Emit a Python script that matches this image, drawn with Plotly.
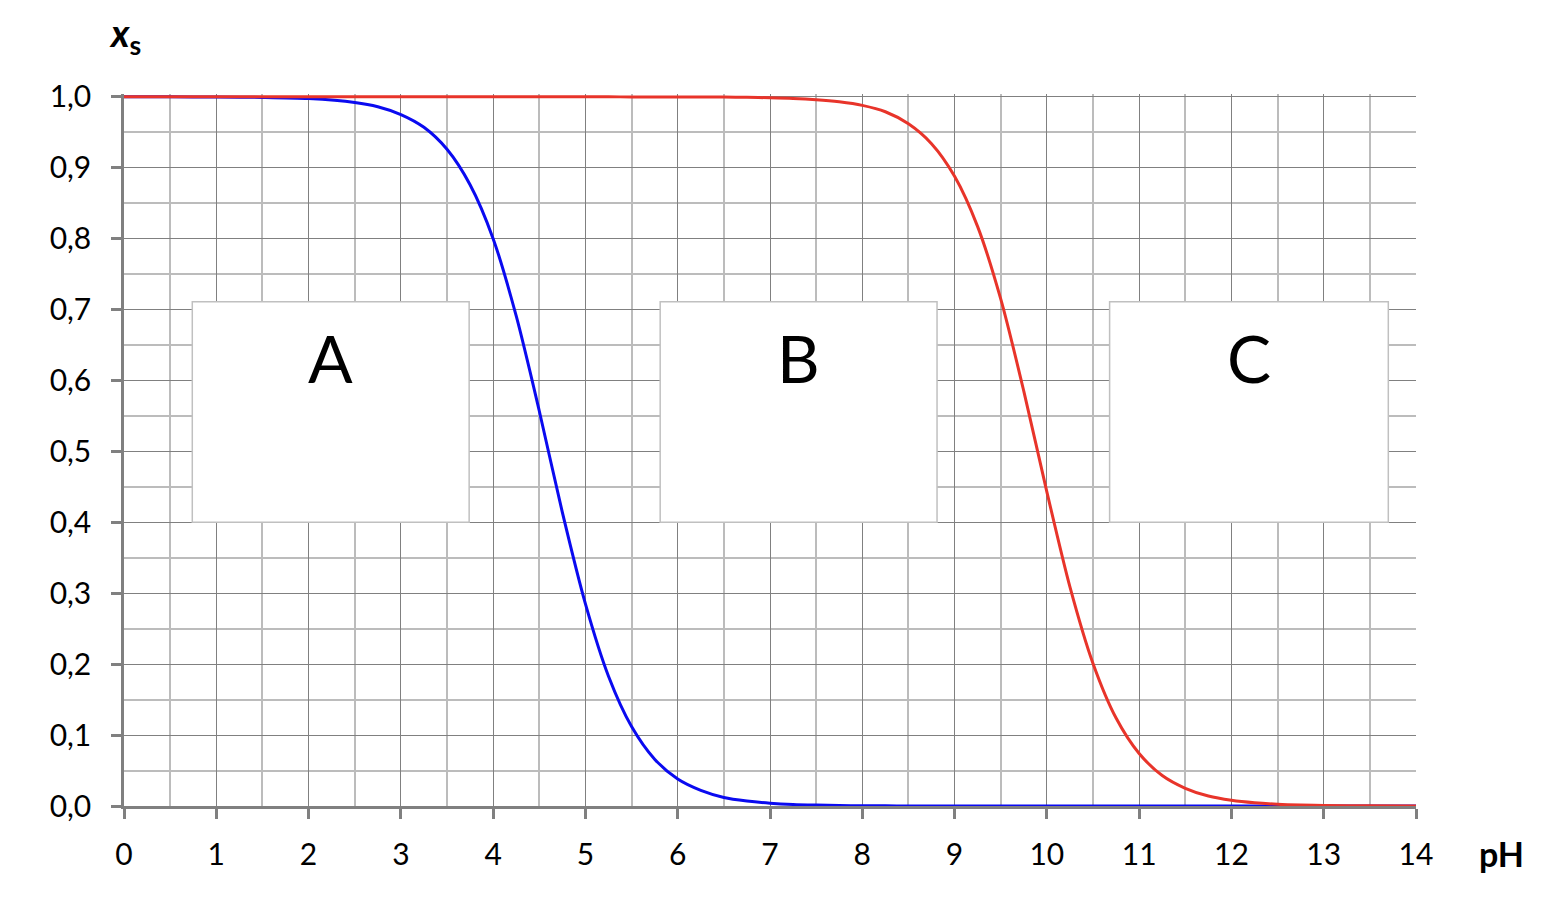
import plotly.graph_objects as go

# pH values
ph = [0, 0.5, 1, 1.5, 2, 2.5, 2.75, 3, 3.25, 3.5, 3.75, 4, 4.25, 4.5, 4.75, 5, 5.25, 5.5,
      5.75, 6, 6.25, 6.5, 6.75, 7, 7.25, 7.5, 7.75, 8, 8.25, 8.5, 8.75, 9, 9.25, 9.5, 9.75,
      10, 10.25, 10.5, 10.75, 11, 11.25, 11.5, 11.75, 12, 12.25, 12.5, 12.75, 13, 13.5, 14]

# blue curve x_s
blue = [1.0, 1.0, 0.9997, 0.9992, 0.9975, 0.992, 0.986, 0.975, 0.957, 0.926, 0.876, 0.80,
        0.691, 0.557, 0.414, 0.285, 0.183, 0.112, 0.066, 0.038, 0.022, 0.012, 0.0070,
        0.0040, 0.0022, 0.0013, 0.0007, 0.0004, 0.0002, 0.0001, 0, 0, 0, 0, 0,
        0, 0, 0, 0, 0, 0, 0, 0, 0, 0, 0, 0, 0, 0, 0]

# red curve x_s
red = [1.0, 1.0, 1.0, 1.0, 1.0, 1.0, 1.0, 1.0, 1.0, 1.0, 1.0, 1.0, 1.0, 1.0, 1.0,
       1.0, 1.0, 0.9999, 0.9999, 0.9999, 0.9998, 0.9996, 0.9993, 0.9987, 0.9978, 0.996,
       0.993, 0.988, 0.979, 0.962, 0.934, 0.888, 0.817, 0.715, 0.585, 0.443, 0.309,
       0.201, 0.124, 0.074, 0.043, 0.025, 0.014, 0.008, 0.0045, 0.0025, 0.0014, 0.0008,
       0.0003, 0.0001]

# labelled boxes: label, x0, x1, y0, y1
box_labels = ["A", "B", "C"]
box_x0 = [0.74, 5.81, 10.68]
box_x1 = [3.74, 8.81, 13.70]
box_y0 = [0.40, 0.40, 0.40]
box_y1 = [0.711, 0.711, 0.711]
label_y = 0.632

FONT = "Lato"

fig = go.Figure()
fig.add_trace(go.Scatter(x=ph, y=blue, mode="lines", line=dict(color="#0a0af0", width=3, shape="spline", smoothing=0.8),
                         hoverinfo="skip", showlegend=False))
fig.add_trace(go.Scatter(x=ph, y=red, mode="lines", line=dict(color="#e8342a", width=3, shape="spline", smoothing=0.8),
                         hoverinfo="skip", showlegend=False))

for lab, x0, x1, y0, y1 in zip(box_labels, box_x0, box_x1, box_y0, box_y1):
    fig.add_shape(type="rect", x0=x0, x1=x1, y0=y0, y1=y1, xref="x", yref="y",
                  fillcolor="white", line=dict(color="#c0c0c0", width=1.5), layer="above")
    fig.add_annotation(x=(x0 + x1) / 2, y=label_y, text=lab, showarrow=False,
                       font=dict(family=FONT, size=66, color="black"), xref="x", yref="y")

fig.add_annotation(x=0, y=1.0, xref="x domain", yref="y", text="<b><i>x</i><sub>s</sub></b>",
                   showarrow=False, xanchor="center", yanchor="bottom", yshift=34, xshift=1,
                   font=dict(family=FONT, size=38, color="black"))
fig.add_annotation(x=1.0, y=0, xref="paper", yref="paper", text="<b>pH</b>",
                   showarrow=False, xanchor="left", yanchor="middle", xshift=61, yshift=-47,
                   font=dict(family=FONT, size=34, color="black"))

fig.update_layout(
    width=1544, height=898,
    margin=dict(l=116, r=136, t=86, b=100),
    paper_bgcolor="white", plot_bgcolor="white",
    separators=",.",
    font=dict(family=FONT, size=30, color="black"),
    xaxis=dict(range=[0, 14], dtick=1, tick0=0, showgrid=True, gridcolor="#808080", gridwidth=1,
               minor=dict(dtick=0.5, showgrid=True, gridcolor="#bcbcbc", gridwidth=1.5),
               showline=True, linecolor="#808080", linewidth=2.5, ticks="outside", ticklen=10,
               tickcolor="#808080", tickwidth=2.5, zeroline=False, fixedrange=True,
               ticklabelstandoff=10),
    yaxis=dict(range=[0, 1.004], dtick=0.1, tick0=0, tickformat=".1f", showgrid=True, gridcolor="#808080",
               gridwidth=1, minor=dict(dtick=0.05, showgrid=True, gridcolor="#bcbcbc", gridwidth=1.5),
               showline=True, linecolor="#808080", linewidth=2.5, ticks="outside", ticklen=10,
               tickcolor="#808080", tickwidth=2.5, zeroline=False, fixedrange=True,
               ticklabelstandoff=14),
)

fig.write_html("out.html")
